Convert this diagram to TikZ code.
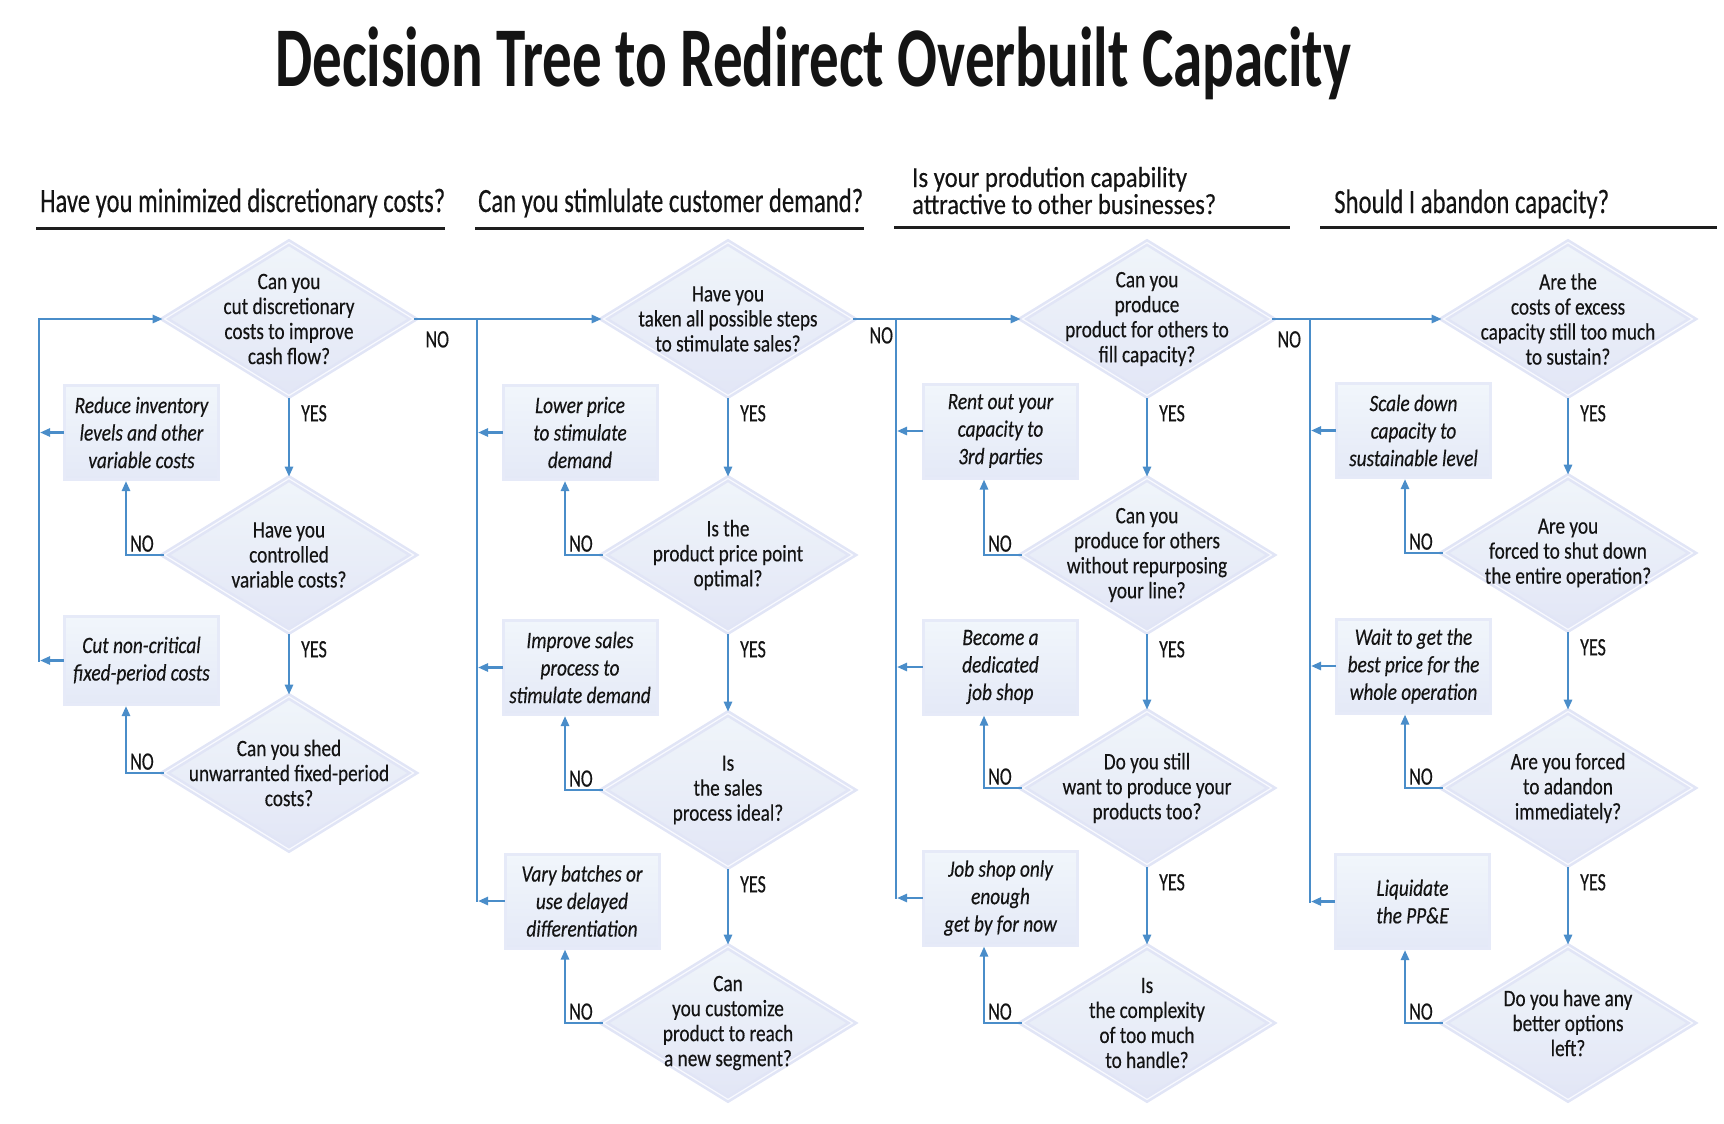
\documentclass[tikz,border=0pt]{standalone}
\usepackage{fontspec}
\usepackage{graphicx}
\setmainfont{Carlito}[FakeStretch=0.82,FakeBold=0.35]
\newfontfamily\titlefont{Carlito}
\newfontfamily\labfont{Carlito}[FakeStretch=0.72,FakeBold=0.35]
\usetikzlibrary{shapes.geometric,arrows.meta,calc}
\definecolor{ink}{HTML}{141414}
\definecolor{arrblue}{HTML}{4A8DC9}
\definecolor{dtop}{HTML}{F0F5FA}
\definecolor{dbot}{HTML}{E2E6F6}
\definecolor{dedge}{HTML}{E1E5F6}
\definecolor{dline}{HTML}{F8F9FE}
\definecolor{btop}{HTML}{F1F6FB}
\definecolor{bbot}{HTML}{E4E9F7}
\definecolor{bedge}{HTML}{E6EAF8}
\definecolor{rulecol}{HTML}{1E1E1E}
\begin{document}
\begin{tikzpicture}[x=1pt,y=-1pt,
  dia/.style={diamond, minimum width=250pt, minimum height=154pt, inner sep=0pt,
    top color=dtop, bottom color=dbot, draw=dedge, double=dline,
    double distance=1.2pt, line width=2.6pt},
  dtxt/.style={align=center, inner sep=0pt, text=ink, font=\fontsize{23.5}{25}\selectfont},
  optbox/.style={rectangle, minimum width=154pt, minimum height=94pt, inner sep=0pt,
    top color=btop, bottom color=bbot, draw=bedge, line width=3pt, align=center,
    text=ink, font=\fontsize{23.5}{27.5}\selectfont\itshape},
  arr/.style={draw=arrblue, line width=2.6pt, line cap=rect, -{Triangle[length=10pt,width=8pt]}},
  plain/.style={draw=arrblue, line width=2.6pt, line cap=rect},
  lab/.style={inner sep=0pt, text=ink, font=\labfont\fontsize{25}{28}\selectfont},
  head/.style={anchor=base west, inner sep=0pt, text=ink},
  rule/.style={draw=rulecol, line width=3pt}]
\useasboundingbox (0,0) rectangle (1724,1124);

% ---------- title and headings ----------
\node[head] (title) at (275,87) {\resizebox{1076pt}{\height}{\titlefont\fontsize{85}{90}\selectfont\bfseries Decision Tree to Redirect Overbuilt Capacity}};
\node[head] (h1) at (40,212) {\resizebox{405pt}{\height}{\fontsize{34}{40}\selectfont Have you minimized discretionary costs?}};
\node[head] (h2) at (478,212) {\resizebox{385pt}{\height}{\fontsize{34}{40}\selectfont Can you stimlulate customer demand?}};
\node[head] (h3a) at (912,187) {\resizebox{275pt}{\height}{\fontsize{29}{32}\selectfont Is your prodution capability}};
\node[head] (h3b) at (912,214) {\resizebox{304pt}{\height}{\fontsize{29}{32}\selectfont attractive to other businesses?}};
\node[head] (h4) at (1334,213) {\resizebox{275pt}{\height}{\fontsize{34}{40}\selectfont Should I abandon capacity?}};
\draw[rule] (36,228) -- (445,228);
\draw[rule] (475,228) -- (864,228);
\draw[rule] (894,227) -- (1290,227);
\draw[rule] (1320,227) -- (1717,227);

% ---------- column 1 ----------
\node[dia] (d1) at (289,319) {};
\node[dtxt] (t1) at (d1) {Can you\\cut discretionary\\costs to improve\\cash flow?};
\node[dia] (d2) at (289,555) {};
\node[dtxt] (t2) at (d2) {Have you\\controlled\\variable costs?};
\node[dia] (d3) at (289,773) {};
\node[dtxt] (t3) at (d3) {Can you shed\\unwarranted fixed-period\\costs?};
\node[optbox] (b1) at (141.5,432.5) {Reduce inventory\\levels and other\\variable costs};
\node[optbox, minimum height=88pt] (b2) at (141.5,660.5) {Cut non-critical\\fixed-period costs};

% ---------- column 2 ----------
\node[dia] (d4) at (728,319) {};
\node[dtxt] (t4) at (d4) {Have you\\taken all possible steps\\to stimulate sales?};
\node[dia] (d5) at (728,555) {};
\node[dtxt] (t5) at (d5) {Is the\\product price point\\optimal?};
\node[dia] (d6) at (728,790) {};
\node[dtxt] (t6) at (d6) {Is\\the sales\\process ideal?};
\node[dia] (d7) at (728,1023) {};
\node[dtxt] (t7) at (d7) {Can\\you customize\\product to reach\\a new segment?};
\node[optbox] (b4) at (580,432.5) {Lower price\\to stimulate\\demand};
\node[optbox] (b5) at (580,667.5) {Improve sales\\process to\\stimulate demand};
\node[optbox] (b6) at (582,901) {Vary batches or\\use delayed\\differentiation};

% ---------- column 3 ----------
\node[dia] (d8) at (1147,319) {};
\node[dtxt] (t8) at (d8) {Can you\\produce\\product for others to\\fill capacity?};
\node[dia] (d9) at (1147,555) {};
\node[dtxt] (t9) at (d9) {Can you\\produce for others\\without repurposing\\your line?};
\node[dia] (d10) at (1147,788) {};
\node[dtxt] (t10) at (d10) {Do you still\\want to produce your\\products too?};
\node[dia] (d11) at (1147,1023) {};
\node[dtxt] (t11) at (d11) {Is\\the complexity\\of too much\\to handle?};
\node[optbox] (b8) at (1000.5,431) {Rent out your\\capacity to\\3rd parties};
\node[optbox] (b9) at (1000.5,667) {Become a\\dedicated\\job shop};
\node[optbox] (b10) at (1000.5,898) {Job shop only\\enough\\get by for now};

% ---------- column 4 ----------
\node[dia] (d12) at (1568,319) {};
\node[dtxt] (t12) at (d12) {Are the\\costs of excess\\capacity still too much\\to sustain?};
\node[dia] (d13) at (1568,553) {};
\node[dtxt] (t13) at (d13) {Are you\\forced to shut down\\the entire operation?};
\node[dia] (d14) at (1568,788) {};
\node[dtxt] (t14) at (d14) {Are you forced\\to adandon\\immediately?};
\node[dia] (d15) at (1568,1023) {};
\node[dtxt] (t15) at (d15) {Do you have any\\better options\\left?};
\node[optbox] (b12) at (1413.5,430.5) {Scale down\\capacity to\\sustainable level};
\node[optbox] (b13) at (1413.5,666) {Wait to get the\\best price for the\\whole operation};
\node[optbox] (b14) at (1412.5,901.5) {Liquidate\\the PP\&E};

% ---------- main NO flow ----------
\draw[arr] (d1.east) -- (d4.west);
\draw[arr] (d4.east) -- (d8.west);
\draw[arr] (d8.east) -- (d12.west);
\node[lab, anchor=north west] (n1) at ($(d1.east)+(10,12)$) {NO};
\node[lab, anchor=north west] (n4) at ($(d4.east)+(15,8)$) {NO};
\node[lab, anchor=north west] (n8) at ($(d8.east)+(4,12)$) {NO};

% ---------- return lines ----------
\coordinate (v1t) at (39,319);
\coordinate (v2t) at (477,319);
\coordinate (v3t) at (896,319);
\coordinate (v4t) at (1310,319);
\draw[arr, shorten >=1pt] (b1.west) -- (b1.west -| v1t);
\draw[arr, shorten >=1pt] (b2.west) -- (b2.west -| v1t);
\draw[arr] (b2.west -| v1t) -- (v1t) -- (d1.west);
\draw[plain] (v2t) -- (b6.west -| v2t);
\draw[arr, shorten >=1pt] (b4.west) -- (b4.west -| v2t);
\draw[arr, shorten >=1pt] (b5.west) -- (b5.west -| v2t);
\draw[arr, shorten >=1pt] (b6.west) -- (b6.west -| v2t);
\draw[plain] (v3t) -- (b10.west -| v3t);
\draw[arr, shorten >=1pt] (b8.west) -- (b8.west -| v3t);
\draw[arr, shorten >=1pt] (b9.west) -- (b9.west -| v3t);
\draw[arr, shorten >=1pt] (b10.west) -- (b10.west -| v3t);
\draw[plain] (v4t) -- (b14.west -| v4t);
\draw[arr, shorten >=1pt] (b12.west) -- (b12.west -| v4t);
\draw[arr, shorten >=1pt] (b13.west) -- (b13.west -| v4t);
\draw[arr, shorten >=1pt] (b14.west) -- (b14.west -| v4t);

% ---------- YES arrows ----------
\foreach \a/\b in {d1/d2,d2/d3,d4/d5,d5/d6,d6/d7,d8/d9,d9/d10,d10/d11,d12/d13,d13/d14,d14/d15}{
  \draw[arr, shorten <=2pt] (\a.south) -- (\b.north);
  \node[lab, anchor=west] (y\a) at ($(\a.south)+(12,16)$) {YES};
}

% ---------- NO feedback ----------
\coordinate (k1) at (126,0);
\coordinate (k2) at (565,0);
\coordinate (k3) at (984,0);
\coordinate (k4) at (1405,0);
\foreach \d/\b/\k in {d2/b1/k1,d3/b2/k1,d5/b4/k2,d6/b5/k2,d7/b6/k2,d9/b8/k3,d10/b9/k3,d11/b10/k3,d13/b12/k4,d14/b13/k4,d15/b14/k4}{
  \draw[arr] (\d.west) -- (\d.west -| \k) -- (\b.south -| \k);
  \node[lab, anchor=south west] (m\d) at ($(\d.west -| \k)+(4,-3)$) {NO};
}
\end{tikzpicture}
\end{document}
